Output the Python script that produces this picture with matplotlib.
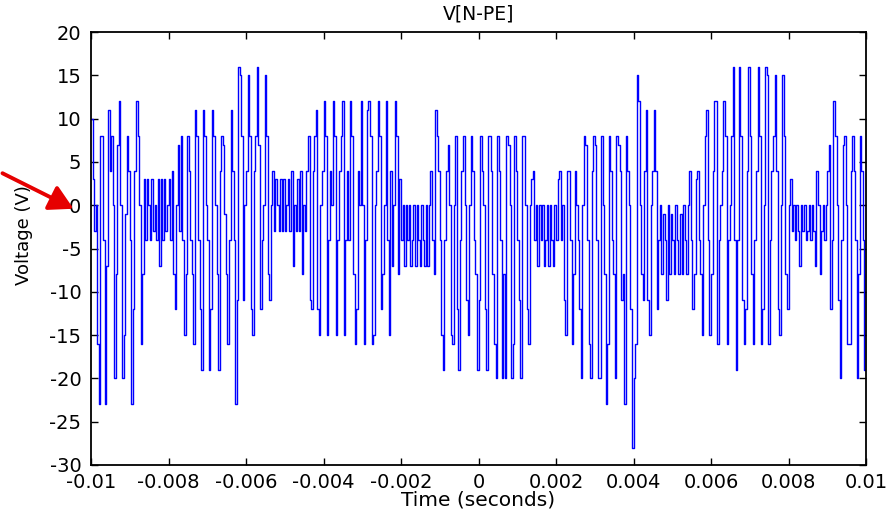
import numpy as np
import matplotlib
matplotlib.use("Agg")
import matplotlib.pyplot as plt

# ---- data: stepped voltage samples, 25 samples per millisecond ----
t_start = -0.01
t_end = 0.01
v_rows = [
    [10, 3, -3, 0, -16, -23, 8, 8, -4, -23, -7, 11, 4, 8, 0, -20, -8, 7, 12, 0, -20, -15, -1, 8, 4],
    [-4, -23, -12, 4, 12, 8, 0, -16, -8, 3, -4, 3, 0, -4, 3, -3, 0, -4, 3, -7, 3, -4, 3, -3, 0],
    [3, -4, 4, -8, -12, 0, 7, -3, 8, -4, -15, -8, 8, 4, -4, -8, -16, 11, 8, -4, -12, -19, 11, 8, 0],
    [-4, -19, -12, 11, 8, 0, -8, -19, 4, 8, 7, -1, -8, -16, -4, 11, 4, -4, -23, -11, 16, 15, 8, -11, 0],
    [4, 15, 8, -12, -15, 4, 8, 16, 7, -12, -4, 0, 15, 8, -8, -11, 0, 4, -3, 3, 0, -3, 3, -3, 3],
    [-3, 0, 3, -3, 4, -7, 0, -3, 3, -3, 4, -8, 0, -3, 4, 8, -11, -12, 4, 8, 11, -12, -15, 0, 4],
    [12, 8, -15, -4, 4, 0, 12, 8, -15, -4, 4, 8, 12, -15, -4, 4, -4, 12, 8, -8, -16, -12, 4, 0, 12],
    [0, -16, -4, 11, 12, 8, -16, -15, 0, 4, 12, 8, -12, -8, 0, 12, -4, -15, 4, -7, 0, 12, 8, -8, 3],
    [-4, 0, -7, 0, -4, 0, -7, -4, 0, -7, 0, -4, -7, 0, -4, -7, 0, -7, 0, 4, -4, -8, 11, 8, 4],
    [-4, -15, -19, -4, 4, 7, 0, -15, -16, 0, 8, -12, -19, -4, 4, 8, 0, -11, -15, 0, 8, 4, -4, -8, -19],
    [-11, 8, 4, 0, -12, -19, 8, 8, 4, -8, -16, -20, 8, 4, -4, -20, -8, -20, 8, 7, 0, -20, -16, 8, 4],
    [-4, -11, -20, 8, 8, 0, -12, -16, 0, 3, 4, -4, 0, -7, 0, -4, 0, -7, -4, 0, -7, 0, -4, -7, 0],
    [-4, 3, 4, -4, 0, -11, -15, 4, 4, -4, -16, -8, 4, 0, -4, -12, -20, 0, 8, 7, -4, -16, -20, 4, 8],
    [7, -4, -20, -20, 8, 0, -8, -23, -16, 8, 4, -4, -8, -20, 8, 7, 4, -11, -8, -23, 8, 4, 0, -12, -28],
    [-20, -16, 15, 12, 0, -8, -11, 4, 11, -11, -15, 0, 4, 11, 4, -12, -4, 0, -8, -1, -4, -11, 0, -8, -1],
    [-4, -8, 0, -4, -8, -1, -8, 0, -4, -8, 0, 4, -4, -12, -8, 3, 4, -4, -8, -15, 0, 8, 11, -4, -15],
    [-8, 4, 12, 12, -16, -4, 0, 4, 12, 8, -16, -4, 0, 8, 16, -4, -19, -4, 16, 8, -11, -16, -12, 4, 16],
    [8, -8, -16, -4, 4, 16, 8, -16, -12, 0, 16, 15, -16, -4, 4, 8, 15, 4, -12, -15, 0, 15, 8, -8, -12],
    [0, 3, -3, 0, -4, 0, -3, -7, 0, -3, 0, -4, -3, 0, -4, 0, -3, -7, 4, 0, -8, -3, 0, -4, 0],
    [4, 7, -12, -4, 12, 8, 0, -11, -20, -4, 7, 8, 0, -16, -16, 4, 8, 4, -4, -20, -8, 8, 4, -4, -19],
]
v_last = [-8]

voltage = np.array([v for row in v_rows for v in row] + v_last, dtype=float)
time = np.linspace(t_start, t_end, len(voltage))

x_ticks = [-0.01, -0.008, -0.006, -0.004, -0.002, 0, 0.002, 0.004, 0.006, 0.008, 0.01]
x_tick_labels = ["-0.01", "-0.008", "-0.006", "-0.004", "-0.002", "0",
                 "0.002", "0.004", "0.006", "0.008", "0.01"]
y_ticks = [-30, -25, -20, -15, -10, -5, 0, 5, 10, 15, 20]

# ---- figure ----
plt.rcParams['font.family'] = ['DejaVu Sans']
plt.rcParams['axes.unicode_minus'] = False
fig = plt.figure(figsize=(8.88, 5.12), dpi=100)
ax = fig.add_axes([91/888, 1-465/512, (866-91)/888, (465-32)/512])

ax.plot(time, voltage, color='#0000ff', linewidth=1.0, drawstyle='steps-post')

ax.set_xlim(t_start, t_end)
ax.set_ylim(-30, 20)
ax.set_xticks(x_ticks)
ax.set_xticklabels(x_tick_labels)
ax.set_yticks(y_ticks)
ax.tick_params(direction='in', top=True, right=True, length=5, width=1,
               labelsize=14, colors='black')
ax.tick_params(axis='x', pad=5.5)
ax.tick_params(axis='y', pad=7)
for s in ax.spines.values():
    s.set_linewidth(1.3)
    s.set_color('black')

ax.set_title("V[N-PE]", fontsize=13.5, pad=9)
ax.set_xlabel("Time (seconds)", fontsize=14.5, labelpad=-1)
ax.set_ylabel("Voltage (V)", fontsize=13)
ax.yaxis.set_label_coords(-0.075, 0.53)

# red arrow pointing at the zero level
fig.patches.append(matplotlib.patches.FancyArrowPatch(
    (0/888, 1-172/512), (76/888, 1-210/512), transform=fig.transFigure,
    arrowstyle='-|>,head_length=9,head_width=5', color='#e60000',
    linewidth=2.8, mutation_scale=1.6))

fig.savefig("out.png", dpi=100)
